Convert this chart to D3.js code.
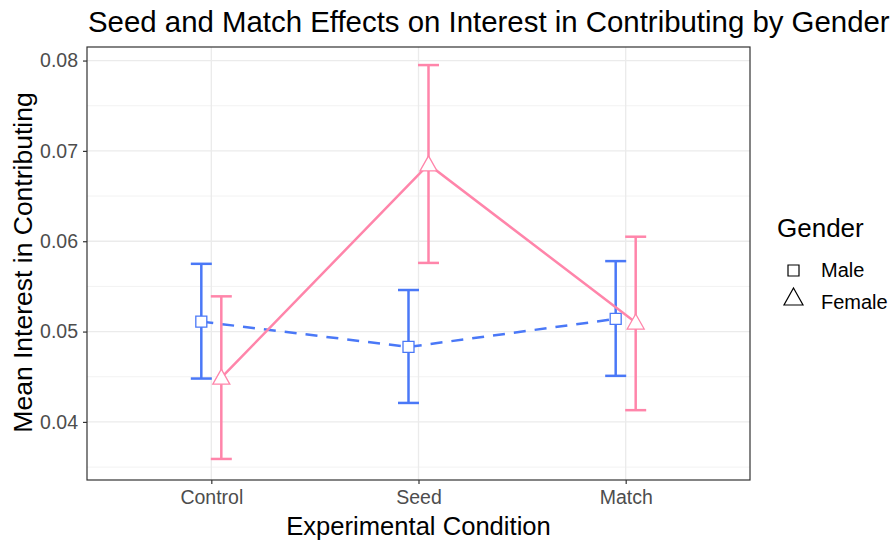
<!DOCTYPE html>
<html>
<head>
<meta charset="utf-8">
<script src="https://cdn.jsdelivr.net/npm/d3@7"></script>
<style>
  body { margin: 0; background: #fff; }
  text { font-family: "Liberation Sans", Arial, sans-serif; }
</style>
</head>
<body>
<div id="chart"></div>
<script>
  "use strict";

  var conditions = ["Control", "Seed", "Match"];
  var maleMean = [0.0511, 0.0483, 0.0514];
  var maleLow = [0.0448, 0.0421, 0.0451];
  var maleHigh = [0.0575, 0.0546, 0.0578];
  var femaleMean = [0.0449, 0.0685, 0.0510];
  var femaleLow = [0.0359, 0.0576, 0.0413];
  var femaleHigh = [0.0539, 0.0795, 0.0605];
  var yTicks = [0.04, 0.05, 0.06, 0.07, 0.08];
  var yMinor = [0.035, 0.045, 0.055, 0.065, 0.075];

  var width = 895, height = 542;
  var panel = {left: 87, right: 750, top: 47, bottom: 480};
  var blue = "#4a78f7", pink = "#ff85aa";

  var svg = d3.select("#chart").append("svg")
    .attr("width", width)
    .attr("height", height);

  var x = d3.scalePoint()
    .domain(conditions)
    .range([panel.left, panel.right])
    .padding(0.6);

  var y = d3.scaleLinear()
    .domain([0.03357, 0.0815])
    .range([panel.bottom, panel.top]);

  var dodge = 10;

  // grid
  var grid = svg.append("g");
  grid.selectAll(".minor").data(yMinor).enter().append("line")
    .attr("x1", panel.left).attr("x2", panel.right)
    .attr("y1", d => y(d)).attr("y2", d => y(d))
    .attr("stroke", "#f2f2f2").attr("stroke-width", 1);
  grid.selectAll(".majory").data(yTicks).enter().append("line")
    .attr("x1", panel.left).attr("x2", panel.right)
    .attr("y1", d => y(d)).attr("y2", d => y(d))
    .attr("stroke", "#ebebeb").attr("stroke-width", 1.3);
  grid.selectAll(".majorx").data(conditions).enter().append("line")
    .attr("x1", d => x(d)).attr("x2", d => x(d))
    .attr("y1", panel.top).attr("y2", panel.bottom)
    .attr("stroke", "#ebebeb").attr("stroke-width", 1.3);

  function series(means, lows, highs, off, color, dash, shape) {
    var g = svg.append("g");
    var pts = conditions.map((c, i) => ({c: c, m: means[i], lo: lows[i], hi: highs[i], px: x(c) + off}));

    g.append("path")
      .datum(pts)
      .attr("fill", "none")
      .attr("stroke", color)
      .attr("stroke-width", 2.5)
      .attr("stroke-dasharray", dash)
      .attr("d", d3.line().x(d => d.px).y(d => y(d.m)));

    var eb = g.selectAll(".eb").data(pts).enter().append("g");
    eb.append("line")
      .attr("x1", d => d.px).attr("x2", d => d.px)
      .attr("y1", d => y(d.lo)).attr("y2", d => y(d.hi))
      .attr("stroke", color).attr("stroke-width", 2.5);
    eb.append("line")
      .attr("x1", d => d.px - 10.5).attr("x2", d => d.px + 10.5)
      .attr("y1", d => y(d.hi)).attr("y2", d => y(d.hi))
      .attr("stroke", color).attr("stroke-width", 2.5);
    eb.append("line")
      .attr("x1", d => d.px - 10.5).attr("x2", d => d.px + 10.5)
      .attr("y1", d => y(d.lo)).attr("y2", d => y(d.lo))
      .attr("stroke", color).attr("stroke-width", 2.5);

    g.selectAll(".pt").data(pts).enter().append("path")
      .attr("transform", d => `translate(${d.px},${y(d.m)})`)
      .attr("d", shape)
      .attr("fill", "#fff")
      .attr("stroke", color)
      .attr("stroke-width", 1.3);
  }

  var squareShape = "M-5.5,-5.5H5.5V5.5H-5.5Z";
  var triangleShape = "M0,-8.5L8.5,6.5H-8.5Z";
  var keySquare = "M-5.5,-5.5H5.5V5.5H-5.5Z";
  var keyTriangle = "M0,-9L9.5,8H-9.5Z";

  series(maleMean, maleLow, maleHigh, -dodge, blue, "12,9", squareShape);
  series(femaleMean, femaleLow, femaleHigh, dodge, pink, null, triangleShape);

  // panel border
  svg.append("rect")
    .attr("x", panel.left).attr("y", panel.top)
    .attr("width", panel.right - panel.left)
    .attr("height", panel.bottom - panel.top)
    .attr("fill", "none")
    .attr("stroke", "#333").attr("stroke-width", 1.2);

  // axes
  var yAxis = svg.append("g")
    .attr("transform", `translate(${panel.left},0)`)
    .call(d3.axisLeft(y).tickValues(yTicks).tickSize(4).tickPadding(5).tickFormat(d3.format(".2f")));
  var xAxis = svg.append("g")
    .attr("transform", `translate(0,${panel.bottom})`)
    .call(d3.axisBottom(x).tickSize(4).tickPadding(6));
  [xAxis, yAxis].forEach(function(a) {
    a.select(".domain").remove();
    a.selectAll(".tick line").attr("stroke", "#333").attr("stroke-width", 1.2);
    a.selectAll(".tick text")
      .attr("fill", "#4d4d4d")
      .style("font-size", "19.5px")
      .style("font-family", "'Liberation Sans', Arial, sans-serif");
  });

  // titles
  svg.append("text")
    .attr("x", 88).attr("y", 32)
    .style("font-size", "29.4px")
    .attr("fill", "#000")
    .text("Seed and Match Effects on Interest in Contributing by Gender");

  svg.append("text")
    .attr("x", (panel.left + panel.right) / 2).attr("y", 535)
    .attr("text-anchor", "middle")
    .style("font-size", "25.6px")
    .text("Experimental Condition");

  svg.append("text")
    .attr("transform", `translate(32,${(panel.top + panel.bottom) / 2 - 1}) rotate(-90)`)
    .attr("text-anchor", "middle")
    .style("font-size", "26.5px")
    .text("Mean Interest in Contributing");

  // legend
  var legend = svg.append("g").attr("transform", "translate(777,0)");
  legend.append("text").attr("x", 0).attr("y", 236.5)
    .style("font-size", "26px").text("Gender");
  var keys = [{label: "Male", shape: keySquare, y: 270.5}, {label: "Female", shape: keyTriangle, y: 297}];
  legend.selectAll(".key").data(keys).enter().append("path")
    .attr("transform", d => `translate(16.5,${d.y})`)
    .attr("d", d => d.shape)
    .attr("fill", "none").attr("stroke", "#000").attr("stroke-width", 1.2);
  legend.selectAll(".lab").data(keys).enter().append("text")
    .attr("x", 44).attr("y", (d, i) => i === 0 ? 276.5 : 309)
    .style("font-size", "20px")
    .text(d => d.label);
</script>
</body>
</html>
